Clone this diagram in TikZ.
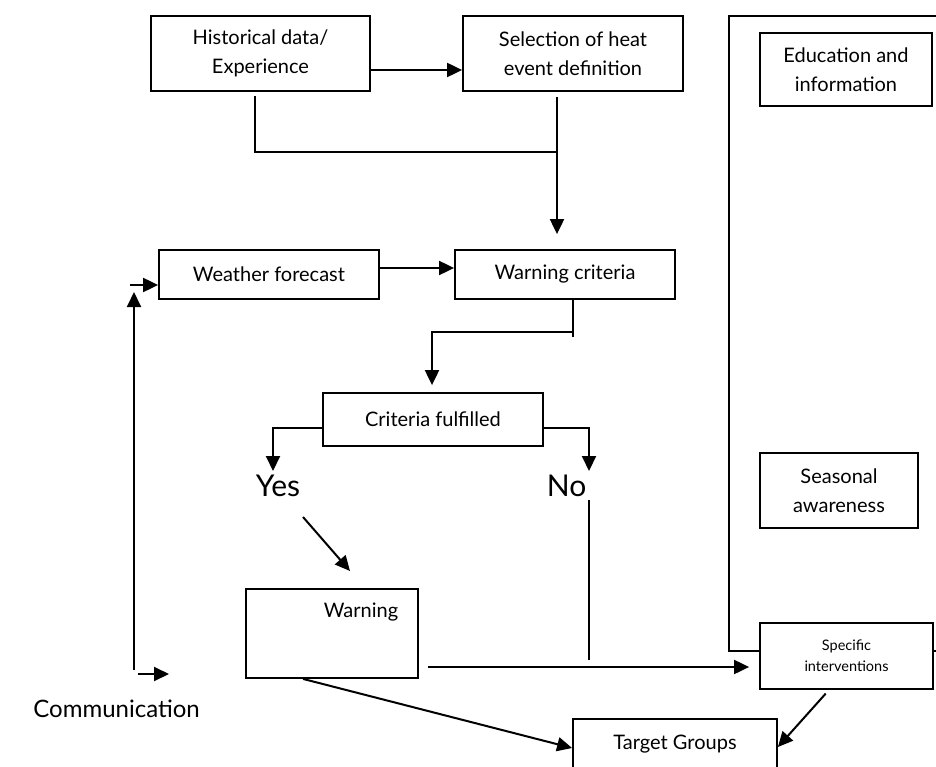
\documentclass[tikz,border=0pt]{standalone}
\usepackage{fontspec}
\setmainfont{Lato}
\usetikzlibrary{arrows.meta}
\begin{document}
\begin{tikzpicture}[x=1pt,y=-1pt,
  box/.style={draw, line width=1.8pt, fill=white, inner sep=0pt, align=center,
    font=\fontsize{20}{29}\selectfont},
  smallbox/.style={box, font=\fontsize{14.5}{21}\selectfont},
  thinln/.style={line width=1.4pt},
  arr/.style={line width=2pt, -{Triangle[length=15pt,width=14pt]}},
  big/.style={font=\fontsize{30}{36}\selectfont, inner sep=0pt},
]
\path[use as bounding box, clip] (0,0) rectangle (936,767);

% frame around the public-health measures column
\draw[line width=1.8pt] (729,16) rectangle (950,651);

% boxes
\node[box, minimum width=219pt, minimum height=75pt] (hist) at (260.5,53.5) {Historical data/\\Experience};
\node[box, minimum width=220pt, minimum height=75pt] (sel) at (573,53.5) {Selection of heat\\event definition};
\node[box, minimum width=220pt, minimum height=49pt] (wf) at (269,274.5) {Weather forecast};
\node[box, minimum width=220pt, minimum height=49pt] (wc) at (565,274.5) {Warning criteria};
\node[box, minimum width=220pt, minimum height=53pt] (cf) at (433,419.5) {Criteria fulfilled};
\node[box, minimum width=172pt, minimum height=89pt] (warn) at (332,633.5) {};
\node[font=\fontsize{20}{29}\selectfont, inner sep=0pt] (warnlabel) at (361,612) {Warning};
\node[box, minimum width=172pt, minimum height=73pt] (edu) at (846,69.5) {Education and\\information};
\node[box, minimum width=158pt, minimum height=75pt] (sea) at (839,490.5) {Seasonal\\awareness};
\node[smallbox, minimum width=173pt, minimum height=66pt] (si) at (846.5,656) {Specific\\interventions};
\node[box, anchor=base, minimum width=204pt, text height=30pt, text depth=45pt, inner ysep=0pt] (tg) at (675,749) {Target Groups};

% labels
\node[big] (yes) at (278,486) {Yes};
\node[big] (no) at (566.5,486) {No};
\node[font=\fontsize{24}{28}\selectfont, anchor=base east, inner sep=0pt] (comm) at (200,717) {Communication};

% junction and end points
\coordinate (j1) at (255,152);
\coordinate (j2) at (557,152);
\coordinate (k1) at (573,332);
\coordinate (k2) at (432,332);
\coordinate (yl) at (273,428);
\coordinate (yt) at (273,471);
\coordinate (nr) at (589,428);
\coordinate (nt) at (589,471);
\coordinate (ya) at (303,517);
\coordinate (yb) at (350,571);
\coordinate (n1) at (589,500);
\coordinate (n2) at (589,660);
\coordinate (h) at (0,667);
\coordinate (t1) at (0,748);
\coordinate (t2) at (0,747);
\coordinate (cb) at (134,670);
\coordinate (ct) at (134,292);
\coordinate (cl) at (130,285);
\coordinate (c1) at (138,674);
\coordinate (c2) at (169,674);

% connectors
\draw[arr] ([yshift=-16.5pt]hist.east) -- ([yshift=-16.5pt]sel.west);
\draw[thinln, shorten <=4pt] (hist.south -| j1) -- (j1) -- (j2);
\draw[arr, shorten <=5pt, shorten >=15pt] (sel.south -| j2) -- (wc.north -| j2);
\draw[arr] ([yshift=6.5pt]wf.east) -- ([yshift=6.5pt]wc.west);
\draw[thinln] (wc.south -| k1) -- ([yshift=-5pt]k1);
\draw[arr, shorten >=7pt] (k1) -- (k2) -- (cf.north -| k2);
\draw[arr] ([yshift=-8.5pt]cf.west) -- (yl) -- (yt);
\draw[arr] ([yshift=-8.5pt]cf.east) -- (nr) -- (nt);
\draw[arr] (ya) -- (yb);
\draw[thinln] (n1) -- (n2);
\draw[arr, shorten <=9pt, shorten >=10pt] (warn.east |- h) -- (si.west |- h);
\draw[arr] ([xshift=-29pt]warn.south) -- (tg.west |- t1);
\draw[arr, shorten <=5pt] ([xshift=-17.5pt]si.south) -- (tg.east |- t2);
\draw[arr] (cb) -- (ct);
\draw[arr] (cl) -- (wf.west |- cl);
\draw[arr] (c1) -- (c2);
\end{tikzpicture}
\end{document}
